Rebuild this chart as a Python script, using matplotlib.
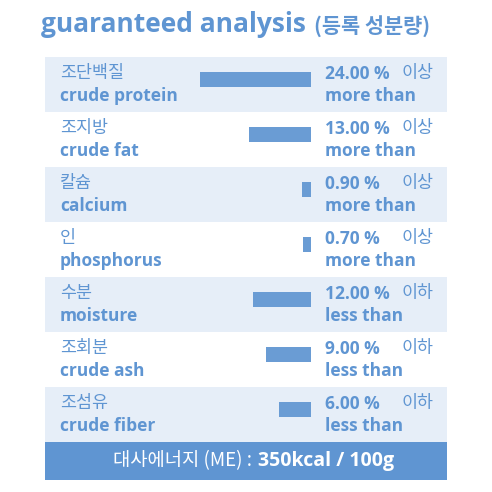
import matplotlib
matplotlib.use("Agg")
from matplotlib import pyplot as plt
from matplotlib.patches import Rectangle

ko_names = ["조단백질", "조지방", "칼슘", "인", "수분", "조회분", "조섬유"]
en_names = ["crude protein", "crude fat", "calcium", "phosphorus", "moisture", "crude ash", "crude fiber"]
values = [24.00, 13.00, 0.90, 0.70, 12.00, 9.00, 6.00]
ko_cond = ["이상", "이상", "이상", "이상", "이하", "이하", "이하"]
en_cond = ["more than", "more than", "more than", "more than", "less than", "less than", "less than"]
title_en = "guaranteed analysis"
title_ko = "(등록 성분량)"
banner_ko = "대사에너지 (ME) : "
banner_val = "350kcal / 100g"

blue = "#5f95d2"
bar_c = "#6a9cd4"
light = "#e6eef8"
KO = ["Noto Sans CJK KR", "DejaVu Sans"]
EN = ["Open Sans", "Noto Sans CJK KR"]

fig = plt.figure(figsize=(4.92, 4.92), dpi=100)
ax = fig.add_axes([0, 0, 1, 1])
ax.set_xlim(0, 492)
ax.set_ylim(492, 0)
ax.axis("off")

ax.text(306, 25, title_en, color=blue, fontsize=19, fontweight="bold", family=EN, ha="right", va="center")
ax.text(314, 27, title_ko, color=blue, fontsize=15, fontweight="bold", family=KO, ha="left", va="center")

top, rh, x0, x1 = 57, 55, 45, 447
for i in range(len(values)):
    y = top + i * rh
    if i % 2 == 0:
        ax.add_patch(Rectangle((x0, y), x1 - x0, rh, color=light, lw=0))
    ax.text(60, y + 16, ko_names[i], color=blue, fontsize=12.5, family=KO, va="center")
    ax.text(60, y + 39, en_names[i], color=blue, fontsize=12.5, fontweight="bold", family=EN, va="center")
    ax.text(325, y + 17, "%.2f %%" % values[i], color=blue, fontsize=12.5, fontweight="bold", family=EN, va="center")
    ax.text(402, y + 16, ko_cond[i], color=blue, fontsize=12.5, family=KO, va="center")
    ax.text(325, y + 39, en_cond[i], color=blue, fontsize=12.5, fontweight="bold", family=EN, va="center")

ax.add_patch(Rectangle((x0, 442), x1 - x0, 38, color=blue, lw=0))
ax.text(256, 461, banner_ko, color="white", fontsize=13.5, family=KO, ha="right", va="center")
ax.text(258, 461, banner_val, color="white", fontsize=14, fontweight="bold", family=EN, ha="left", va="center")

# bars, right aligned, in their own axes
bx = fig.add_axes([185 / 492, 1 - 442 / 492, (311 - 185) / 492, 385 / 492])
bx.set_xlim(27.5, -1.2)
bx.set_ylim(len(values) - 0.5, -0.5)
bx.axis("off")
ys = [i - 0.09 for i in range(len(values))]
bx.barh(ys, [v + 1.2 for v in values], left=-1.2, height=0.26, color=bar_c)

fig.savefig("out.png", dpi=100)
